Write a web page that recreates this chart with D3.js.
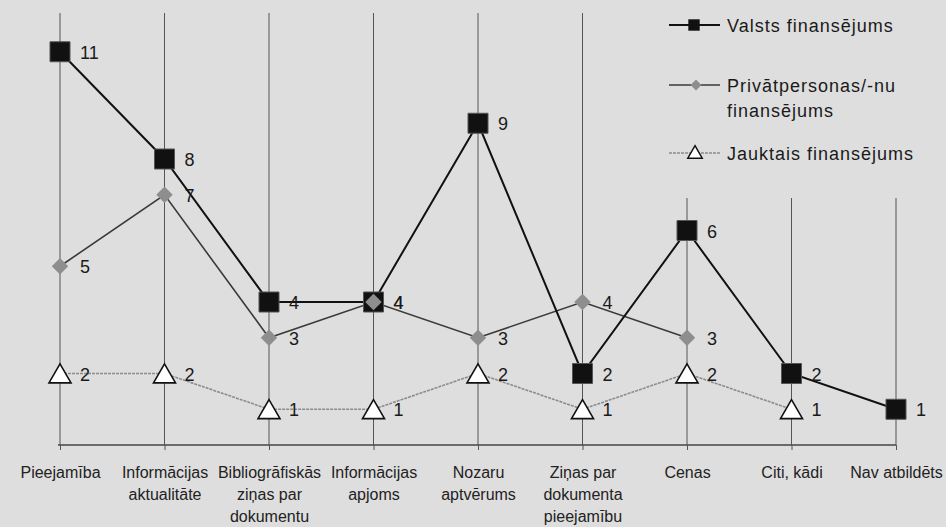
<!DOCTYPE html>
<html><head><meta charset="utf-8">
<script src="https://cdn.jsdelivr.net/npm/d3@7"></script>
<style>body{margin:0;background:#dedede}svg{display:block}</style>
</head><body><svg id="c" width="946" height="527"></svg>
<script>
const categories = [
  "Pieejamība",
  "Informācijas\naktualitāte",
  "Bibliogrāfiskās\nziņas par\ndokumentu",
  "Informācijas\napjoms",
  "Nozaru\naptvērums",
  "Ziņas par\ndokumenta\npieejamību",
  "Cenas",
  "Citi, kādi",
  "Nav atbildēts"
];
const valsts = [11, 8, 4, 4, 9, 2, 6, 2, 1];
const privat = [5, 7, 3, 4, 3, 4, 3, null, null];
const jaukts = [2, 2, 1, 1, 2, 1, 2, 1, null];
const seriesNames = ["Valsts finansējums", "Privātpersonas/-nu\nfinansējums", "Jauktais finansējums"];

const svg = d3.select("#c");
const font = "'Liberation Sans', Arial, Helvetica, sans-serif";
const x = d3.scalePoint().domain(categories).range([60, 896]);
const y = d3.scaleLinear().domain([0, 12]).range([445, 16]);

// grid lines
svg.append("g").selectAll("line").data(categories).join("line")
  .attr("x1", d => x(d)).attr("x2", d => x(d))
  .attr("y1", d => x(d) > 650 ? 198 : 13)
  .attr("y2", y(0))
  .attr("stroke", "#555").attr("stroke-width", 1);

// axis
const axis = svg.append("g").attr("transform", `translate(0,${y(0)})`)
  .call(d3.axisBottom(x).tickSizeInner(5).tickSizeOuter(0).tickFormat(""));
axis.select(".domain").attr("stroke", "#444").attr("stroke-width", 1.6)
  .attr("d", `M${x(categories[0]) - 2},0H${x(categories[categories.length - 1])}`);
axis.selectAll(".tick line").attr("stroke", "#555");
axis.selectAll(".tick").each(function(d) {
  const t = d3.select(this).append("text")
    .attr("text-anchor", "middle").attr("fill", "#222")
    .attr("font-family", font).attr("font-size", 16);
  d.split("\n").forEach((ln, i) => {
    t.append("tspan").attr("x", 0).attr("y", 33 + i * 22).text(ln);
  });
});

function pts(arr) { return arr.map((v, i) => ({c: categories[i], v})).filter(p => p.v != null); }
const line = d3.line().x(p => x(p.c)).y(p => y(p.v));

svg.append("path").datum(pts(jaukts)).attr("d", line).attr("fill", "none")
  .attr("stroke", "#8c8c8c").attr("stroke-width", 1.6).attr("stroke-dasharray", "3,1");
svg.append("path").datum(pts(privat)).attr("d", line).attr("fill", "none")
  .attr("stroke", "#3a3a3a").attr("stroke-width", 1.6);
svg.append("path").datum(pts(valsts)).attr("d", line).attr("fill", "none")
  .attr("stroke", "#111").attr("stroke-width", 2);

const tri = d3.symbol().type(d3.symbolTriangle).size(210);
const sq = d3.symbol().type(d3.symbolSquare).size(400);
const dia = d3.symbol().type(d3.symbolSquare).size(135);

svg.append("g").selectAll("path").data(pts(jaukts)).join("path")
  .attr("d", tri).attr("transform", p => `translate(${x(p.c)},${y(p.v) + 3})`)
  .attr("fill", "#fff").attr("stroke", "#111").attr("stroke-width", 1.6);
svg.append("g").selectAll("path").data(pts(valsts)).join("path")
  .attr("d", sq).attr("transform", p => `translate(${x(p.c)},${y(p.v)})`)
  .attr("fill", "#111").attr("stroke", "#555").attr("stroke-width", 1);
svg.append("g").selectAll("path").data(pts(privat)).join("path")
  .attr("d", dia).attr("transform", p => `translate(${x(p.c)},${y(p.v)}) rotate(45)`)
  .attr("fill", "#8e8e8e");

// value labels
[jaukts, privat, valsts].forEach(arr => {
  svg.append("g").selectAll("text").data(pts(arr)).join("text")
    .attr("x", p => x(p.c) + 20).attr("y", p => y(p.v) + 7)
    .attr("font-family", font).attr("font-size", 18).attr("fill", "#1a1a1a")
    .text(p => p.v);
});

// legend
const lg = svg.append("g");
const rows = [
  {y: 25, kind: "sq"}, {y: 85, kind: "dia"}, {y: 153, kind: "tri"}
];
rows.forEach((r, i) => {
  const col = r.kind === "sq" ? "#111" : r.kind === "dia" ? "#3a3a3a" : "#8c8c8c";
  lg.append("line").attr("x1", 669).attr("x2", 720).attr("y1", r.y).attr("y2", r.y)
    .attr("stroke", col).attr("stroke-width", r.kind === "sq" ? 2 : 1.6)
    .attr("stroke-dasharray", r.kind === "tri" ? "3,1" : null);
  if (r.kind === "sq") lg.append("path").attr("d", d3.symbol().type(d3.symbolSquare).size(130)())
    .attr("transform", `translate(694,${r.y})`).attr("fill", "#111");
  if (r.kind === "dia") lg.append("path").attr("d", d3.symbol().type(d3.symbolSquare).size(60)())
    .attr("transform", `translate(696,${r.y}) rotate(45)`).attr("fill", "#8e8e8e");
  if (r.kind === "tri") lg.append("path").attr("d", d3.symbol().type(d3.symbolTriangle).size(90)())
    .attr("transform", `translate(695,${r.y + 1})`).attr("fill", "#fff").attr("stroke", "#111").attr("stroke-width", 1.5);
  const t = lg.append("text").attr("font-family", font).attr("font-size", 18)
    .attr("letter-spacing", 1).attr("fill", "#1a1a1a");
  seriesNames[i].split("\n").forEach((ln, k) => {
    t.append("tspan").attr("x", 727).attr("y", r.y + 7 + k * 25).text(ln);
  });
});
</script></body></html>
